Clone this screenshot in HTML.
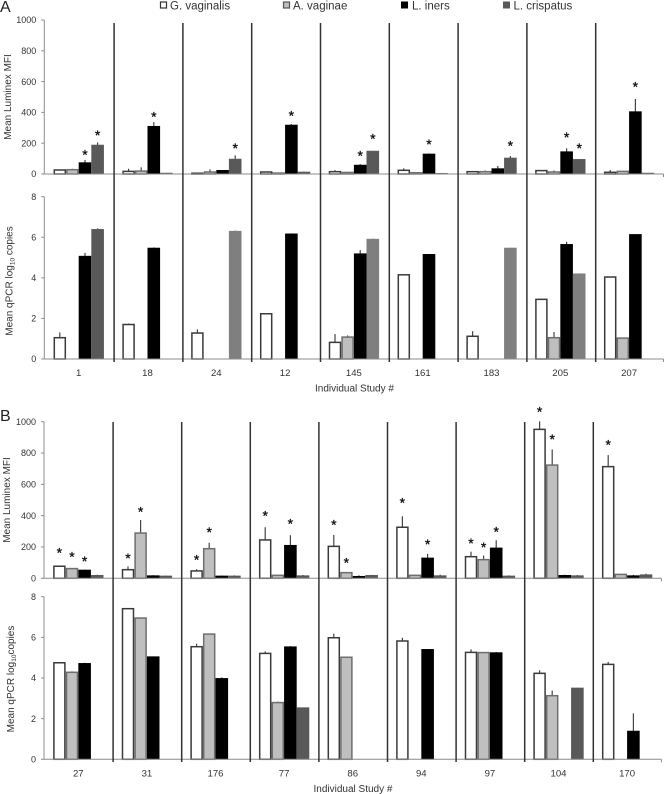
<!DOCTYPE html>
<html>
<head>
<meta charset="utf-8">
<title>Luminex MFI and qPCR by individual</title>
<style>
html,body{margin:0;padding:0;background:#fff;width:664px;height:794px;overflow:hidden}
svg{display:block;font-family:"Liberation Sans",sans-serif;fill:#333;filter:blur(0.3px)}
</style>
</head>
<body>
<svg id="chart" width="664" height="794" viewBox="0 0 664 794" xmlns="http://www.w3.org/2000/svg">
  <text x="0" y="12" font-size="16" fill="#222">A</text>
  <text x="0" y="421" font-size="16" fill="#222">B</text>

  <g font-size="11.5">
    <rect x="160.5" y="2" width="6" height="6" fill="#fff" stroke="#333" stroke-width="1.2"/>
    <text x="170" y="9.5">G. vaginalis</text>
    <rect x="283.5" y="2" width="6" height="6" fill="#bfbfbf" stroke="#555" stroke-width="1.2"/>
    <text x="293" y="9.5">A. vaginae</text>
    <rect x="401" y="1.5" width="7" height="7" fill="#000"/>
    <text x="412" y="9.5">L. iners</text>
    <rect x="503" y="1.5" width="7" height="7" fill="#595959"/>
    <text x="513.5" y="9.5">L. crispatus</text>
  </g>

  <text font-size="10" text-anchor="middle" transform="translate(11,97) rotate(-90)">Mean Luminex MFI</text>
  <text font-size="10" text-anchor="middle" transform="translate(12.5,281) rotate(-90)">Mean qPCR log<tspan font-size="6.5" dy="2">10</tspan><tspan dy="-2"> copies</tspan></text>
  <text font-size="10" text-anchor="middle" x="354.5" y="391.5">Individual Study #</text>

  <text font-size="10" text-anchor="middle" transform="translate(10,500) rotate(-90)">Mean Luminex MFI</text>
  <text font-size="10" text-anchor="middle" transform="translate(14,679) rotate(-90)">Mean qPCR log<tspan font-size="6.5" dy="2">10</tspan><tspan dy="-2">copies</tspan></text>
  <text font-size="10" text-anchor="middle" x="353" y="792">Individual Study #</text>
</svg>

<script>
// Series order in every row: G. vaginalis, A. vaginae, L. iners, L. crispatus
const seriesNames = ['g-vaginalis', 'a-vaginae', 'l-iners', 'l-crispatus'];
const mfiTicks = [0, 200, 400, 600, 800, 1000];
const qpcrTicks = [0, 2, 4, 6, 8];

const aCategories = ['1', '18', '24', '12', '145', '161', '183', '205', '207'];
const aMfiValues = [
  [26, 28, 74, 188], [17, 19, 310, 6], [5, 13, 24, 97],
  [13, 6, 318, 13], [15, 10, 58, 149], [24, 8, 130, 4],
  [15, 15, 35, 104], [22, 13, 145, 95], [11, 17, 405, 6]
];
const aMfiErrors = [
  [3, 6, 17, 17], [17, 24, 26, 0], [0, 17, 0, 24],
  [2, 0, 6, 3], [10, 2, 6, 1], [13, 2, 4, 2],
  [2, 8, 17, 13], [2, 10, 22, 1], [15, 1, 82, 1]
];
// Height of each significance asterisk above its error bar, in MFI units (0 = no asterisk)
const aMfiStars = [
  [0, 0, 52, 65], [0, 0, 52, 0], [0, 0, 0, 65],
  [0, 0, 71, 0], [0, 0, 71, 97], [0, 0, 78, 0],
  [0, 0, 0, 84], [0, 0, 90, 90], [0, 0, 97, 0]
];
const aQpcrValues = [
  [1.05, 0, 5.07, 6.39], [1.7, 0, 5.47, 0], [1.28, 0, 0, 6.3],
  [2.23, 0, 6.17, 0], [0.82, 1.08, 5.19, 5.91], [4.15, 0, 5.16, 0],
  [1.12, 0, 0, 5.47], [2.94, 1.05, 5.65, 4.2], [4.04, 1.03, 6.14, 0]
];
const aQpcrErrors = [
  [0.26, 0, 0.16, 0.05], [0.05, 0, 0.03, 0], [0.18, 0, 0, 0.03],
  [0.01, 0, 0.02, 0], [0.41, 0.08, 0.18, 0.02], [0.01, 0, 0.01, 0],
  [0.25, 0, 0, 0.01], [0.01, 0.28, 0.13, 0.02], [0.01, 0.01, 0.02, 0]
];

const bCategories = ['27', '31', '176', '77', '86', '94', '97', '104', '170'];
const bMfiValues = [
  [77, 62, 53, 19], [55, 289, 17, 15], [47, 189, 15, 15],
  [245, 19, 211, 17], [204, 36, 13, 19], [326, 19, 130, 17],
  [138, 119, 194, 15], [951, 723, 19, 17], [713, 25, 17, 23]
];
const bMfiErrors = [
  [1, 3, 3, 4], [21, 83, 3, 3], [11, 38, 3, 4],
  [81, 2, 64, 4], [73, 2, 6, 3], [70, 1, 26, 6],
  [32, 26, 49, 4], [51, 100, 4, 4], [74, 1, 5, 6]
];
const bMfiStars = [
  [104, 91, 71, 0], [71, 71, 0, 0], [78, 84, 0, 0],
  [91, 0, 91, 0], [84, 78, 0, 0], [104, 0, 78, 0],
  [71, 71, 71, 0], [78, 84, 0, 0], [84, 0, 0, 0]
];
const bQpcrValues = [
  [4.75, 4.28, 4.72, 0], [7.41, 6.95, 5.05, 0], [5.54, 6.16, 3.98, 0],
  [5.21, 2.79, 5.54, 2.54], [5.98, 5.02, 0, 0], [5.82, 0, 5.41, 0],
  [5.26, 5.25, 5.25, 0], [4.23, 3.13, 0, 3.51], [4.67, 0, 1.39, 0]
];
const bQpcrErrors = [
  [0.01, 0.05, 0.03, 0], [0.01, 0.01, 0.01, 0], [0.15, 0.03, 0.05, 0],
  [0.1, 0.05, 0.03, 0.01], [0.2, 0.01, 0, 0], [0.16, 0, 0.01, 0],
  [0.15, 0.01, 0.03, 0], [0.15, 0.25, 0, 0.01], [0.12, 0, 0.87, 0]
];

const NS = 'http://www.w3.org/2000/svg';
const svg = document.getElementById('chart');
const fills = ['#ffffff', '#bfbfbf', '#000000', '#595959'];
const strokes = ['#3a3a3a', '#6e6e6e', '#000000', '#595959'];

function make(tag, attrs, parent) {
  const el = document.createElementNS(NS, tag);
  for (const k in attrs) el.setAttribute(k, attrs[k]);
  parent.appendChild(el);
  return el;
}

// Axis functions
function bandCenter(panel, i) { return panel.x0 + (i + 0.5) * panel.step; }
function yScale(chart, v) { return chart.y0 - (v / chart.max) * (chart.y0 - chart.yTop); }

function drawChart(panel, chart) {
  const g = make('g', {}, svg);
  
  
  const bw = 12.6;

  chart.values.forEach(function (row, c) {
    row.forEach(function (v, s) {
      if (!v) return;
      const left = bandCenter(panel, c) - 2 * bw + s * bw;
      const top = yScale(chart, v);
      const err = chart.errors[c][s];
      const errTop = yScale(chart, v + err);
      const mid = left + bw / 2;
      if (err) {
        const line = make('line', { x1: mid, x2: mid, y1: top, y2: errTop, stroke: '#444', 'stroke-width': 1.2 }, g);
        
        
      }
      const fill = chart.fillFor ? chart.fillFor(c, s) : fills[s];
      const inset = s === 0 || s === 1 ? 0.8 : 0.3;
      const bar = make('rect', {
        x: left + inset, y: top, width: bw - 2 * inset, height: chart.y0 - top,
        fill: fill, stroke: s === 3 ? fill : strokes[s], 'stroke-width': s < 2 ? 1.5 : 0.6
      }, g);
      
      
      bar.setAttribute('data-series', seriesNames[s]);
      if (chart.stars && chart.stars[c][s]) {
        const star = make('text', {
          x: mid, y: yScale(chart, v + err + chart.stars[c][s]) + 7.5,
          'text-anchor': 'middle', 'font-size': 14, fill: '#111', stroke: '#111', 'stroke-width': 0.3
        }, g);
        
        
        star.textContent = '*';
      }
    });
  });

  // y axis line and ticks
  const axisColor = '#8c8c8c';
  const yAxis = make('line', { x1: panel.x0, x2: panel.x0, y1: chart.yTop, y2: chart.y0, stroke: axisColor, 'stroke-width': 1 }, g);
  
  
  chart.ticks.forEach(function (t) {
    const y = yScale(chart, t);
    const tick = make('line', { x1: panel.x0 - 3, x2: panel.x0, y1: y, y2: y, stroke: axisColor, 'stroke-width': 1 }, g);
    
    
    const label = make('text', { x: panel.x0 - 8, y: y + 3.2, 'text-anchor': 'end', 'font-size': 9 }, g);
    
    
    label.textContent = t;
  });

  // x axis line
  const xAxis = make('line', { x1: panel.x0, x2: panel.x0 + panel.step * panel.categories.length, y1: chart.y0, y2: chart.y0, stroke: axisColor, 'stroke-width': 1 }, g);
  
  
  const endTick = make('line', { x1: panel.x0 + panel.step * panel.categories.length, x2: panel.x0 + panel.step * panel.categories.length, y1: chart.y0, y2: chart.y0 + 3, stroke: axisColor, 'stroke-width': 1 }, g);
  
  
}

function drawPanel(panel) {
  drawChart(panel, panel.mfi);
  drawChart(panel, panel.qpcr);
  panel.categories.forEach(function (cat, i) {
    const label = make('text', { x: bandCenter(panel, i), y: panel.labelY, 'text-anchor': 'middle', 'font-size': 9.6 }, svg);
    
    
    label.textContent = cat;
    if (i > 0) {
      const x = panel.x0 + i * panel.step + panel.dividerShift;
      const divider = make('line', { x1: x, x2: x, y1: panel.dividerTop, y2: panel.dividerBottom, stroke: '#333', 'stroke-width': 1.5 }, svg);
      
      
    }
  });
}

drawPanel({
  categories: aCategories, x0: 44.3, step: 68.8, labelY: 376, dividerShift: 1, dividerTop: 23, dividerBottom: 362,
  mfi: { name: 'panel-a-mfi-chart', values: aMfiValues, errors: aMfiErrors, stars: aMfiStars, ticks: mfiTicks, max: 1000, y0: 174, yTop: 20 },
  qpcr: { name: 'panel-a-qpcr-chart', values: aQpcrValues, errors: aQpcrErrors, ticks: qpcrTicks, max: 8, y0: 359, yTop: 196.7,
    fillFor: function (c, s) { return s === 3 && c > 0 ? '#7f7f7f' : fills[s]; } }
});

drawPanel({
  categories: bCategories, x0: 44, step: 68.6, labelY: 776.5, dividerShift: 0.5, dividerTop: 422, dividerBottom: 762,
  mfi: { name: 'panel-b-mfi-chart', values: bMfiValues, errors: bMfiErrors, stars: bMfiStars, ticks: mfiTicks, max: 1000, y0: 578.3, yTop: 421.7 },
  qpcr: { name: 'panel-b-qpcr-chart', values: bQpcrValues, errors: bQpcrErrors, ticks: qpcrTicks, max: 8, y0: 759.3, yTop: 596.7 }
});
</script>
</body>
</html>
